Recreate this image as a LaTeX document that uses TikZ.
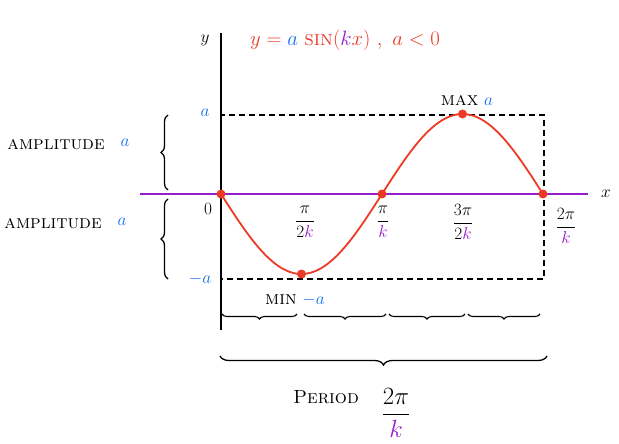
\documentclass[tikz,border=0pt]{standalone}
\usepackage{amsmath}
\usetikzlibrary{positioning,calc,decorations.pathreplacing}
\definecolor{sketchred}{RGB}{236,58,38}
\definecolor{sketchblue}{RGB}{18,112,240}
\definecolor{sketchpurple}{RGB}{150,28,205}
\newcommand{\kk}{{\color{sketchpurple}k}}
\newcommand{\amp}{{\color{sketchblue}a}}

\tikzset{
	hand/.style={font=\fontsize{19}{22}\selectfont},
	curly/.style={decorate, decoration={brace, amplitude=7pt}, line width=1.3pt},
	smallcurly/.style={decorate, decoration={brace, mirror, amplitude=5pt}, line width=1.1pt},
	peak/.style={circle, fill=sketchred, inner sep=0pt, minimum size=9pt},
	boxline/.style={dashed, line width=1.5pt, dash pattern=on 6pt off 4pt},
}

\begin{document}
\begin{tikzpicture}
		[x=1pt, y=-1pt, hand]
		\useasboundingbox (0,0) rectangle (619,444);
		% axes
		\coordinate (ytop) at (221,33);
		\coordinate (ybot) at (221,330);
		\coordinate (xleft) at (140,194);
		\coordinate (xright) at (588,194);
		\draw[line width=1.2pt] (ytop) -- (ybot);
		\draw[sketchpurple, line width=1.2pt] (xleft) -- (xright);
		\node (ylab) at (205,40) {$y$};
		\node (xlab) at (606,194) {$x$};

		% amplitude box
		\coordinate (tl) at (221,115);
		\coordinate (br) at (544,279);
		\draw[boxline] (tl) rectangle (br);

		% the curve
		\draw[sketchred, line width=1.8pt, domain=0:360, samples=80, smooth]
			plot ({221+0.8944*\x},{194+80*sin(\x)});
		\node[peak] (zero1) at (221,194) {};
		\node[peak] (min) at (301.5,274) {};
		\node[peak] (zero2) at (382,194) {};
		\node[peak] (max) at (462.5,114) {};
		\node[peak] (zero3) at (543,194) {};

		\node[sketchred, font=\fontsize{21}{24}\selectfont] (title) at (345,40)
			{$y = \amp\ \textsc{sin}(\kk x)\ ,\ a<0$};

		% values on the y axis
		\node[sketchblue] (alab) at (205,113) {$a$};
		\node (olab) at (208,209) {$0$};
		\node[sketchblue] (malab) at (200,279) {$-a$};

		\coordinate (upA) at (168,190);
		\coordinate (upB) at (168,115);
		\coordinate (loA) at (168,279);
		\coordinate (loB) at (168,199);
		\draw[curly] (upA) -- (upB);
		\draw[curly] (loA) -- (loB);
		\node (amp1) at (56,145) {\textsc{amplitude}};
		\node[sketchblue] (a1) at (125,143) {$a$};
		\node (amp2) at (53,224) {\textsc{amplitude}};
		\node[sketchblue] (a2) at (122,222) {$a$};

		% values on the x axis
		\node (q1) at (305,222) {$\dfrac{\pi}{2\kk}$};
		\node (q2) at (383,222) {$\dfrac{\pi}{\kk}$};
		\node (q3) at (463,222) {$\dfrac{3\pi}{2\kk}$};
		\node (q4) at (566,226) {$\dfrac{2\pi}{\kk}$};

		\node (minlab) at (295,300) {\textsc{min} $\color{sketchblue}-a$};
		\node (maxlab) at (467,100) {\textsc{max} $\amp$};

		% quarter periods
		\foreach \s/\e in {222/297, 304/386, 389/465, 468/540}
			\draw[smallcurly] (\s,314) -- (\e,314);
		\coordinate (perA) at (220,356);
		\coordinate (perB) at (547,356);
		\draw[smallcurly, decoration={amplitude=9pt}, line width=1.3pt] (perA) -- (perB);
		\node (period) at (326,397) {\textsc{Period}};
		\node[font=\fontsize{24}{28}\selectfont] (plen) at (396,413) {$\dfrac{2\pi}{\kk}$};
	\end{tikzpicture}
\end{document}
